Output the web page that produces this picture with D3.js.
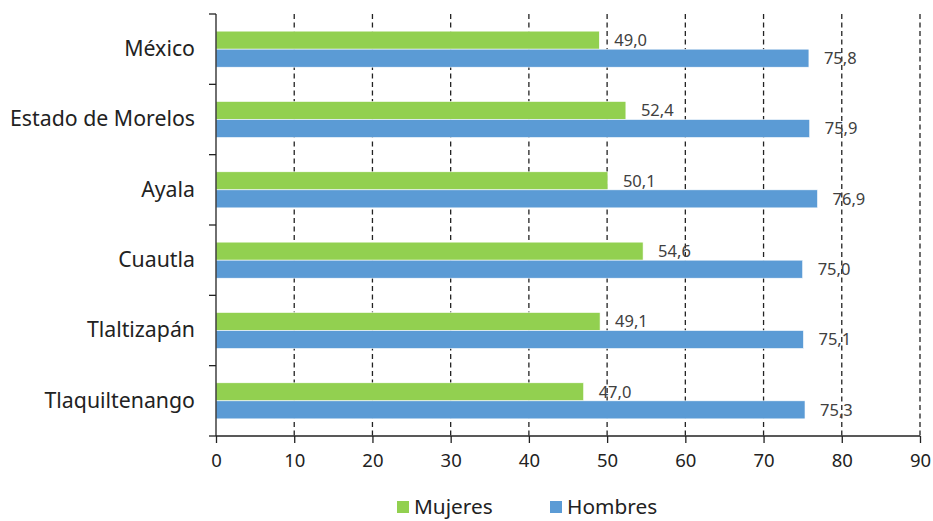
<!DOCTYPE html>
<html><head><meta charset="utf-8">
<script src="https://cdn.jsdelivr.net/npm/d3@7"></script>
<style>body{margin:0;background:#fff;}svg{display:block;font-family:"Noto Sans","Open Sans",sans-serif;}</style>
</head><body>
<svg id="c" width="933" height="521"></svg>
<script>
const categories = ["México","Estado de Morelos","Ayala","Cuautla","Tlaltizapán","Tlaquiltenango"];
const mujeres = [49.0,52.4,50.1,54.6,49.1,47.0];
const hombres = [75.8,75.9,76.9,75.0,75.1,75.3];
const seriesNames = ["Mujeres","Hombres"];
const colors = ["#92d050","#5b9bd5"];
const xTicks = [0,10,20,30,40,50,60,70,80,90];

const FONT = '"Noto Sans","Open Sans",sans-serif';
const svg = d3.select("#c");
const x = d3.scaleLinear().domain([0,90]).range([216,920]);
const y = d3.scaleBand().domain(categories).range([14,436]).paddingInner(0).paddingOuter(0);
const inner = d3.scaleBand().domain(seriesNames).range([0,y.bandwidth()]).paddingInner(0).paddingOuter(0.95);
const fmt = v => v.toFixed(1).replace(".",",");

// gridlines
svg.append("g").selectAll("line").data(xTicks.slice(1)).join("line")
  .attr("x1",d=>x(d)).attr("x2",d=>x(d)).attr("y1",14).attr("y2",436)
  .attr("stroke","#222").attr("stroke-width",1.3).attr("stroke-dasharray","5,3.5");

const data = [mujeres,hombres];
data.forEach((vals,si)=>{
  const g = svg.append("g");
  g.selectAll("rect").data(vals).join("rect")
    .attr("x",x(0)).attr("y",(d,i)=>y(categories[i])+inner(seriesNames[si]))
    .attr("width",d=>x(d)-x(0)).attr("height",inner.bandwidth())
    .attr("fill",colors[si]).attr("stroke","#fff").attr("stroke-width",0.6);
  g.selectAll("text").data(vals).join("text")
    .attr("x",d=>x(d)+15).attr("y",(d,i)=>y(categories[i])+inner(seriesNames[si])+inner.bandwidth()/2)
    .attr("dy","0.35em").attr("font-size",16.5).attr("fill","#404040").text(fmt);
});

// x axis
const xa = svg.append("g").attr("transform","translate(0,436)")
  .call(d3.axisBottom(x).tickValues(xTicks).tickSize(7).tickPadding(11));
xa.attr("font-family",FONT);
xa.select(".domain").attr("stroke","#222").attr("stroke-width",1.3).attr("d","M216,0H920");
xa.selectAll(".tick line").attr("stroke","#222").attr("stroke-width",1.3);
xa.selectAll("text").attr("font-size",18.5).attr("fill","#222");

// y axis
const ya = svg.append("g").attr("transform","translate(216,0)")
  .call(d3.axisLeft(y).tickSize(0).tickPadding(21));
ya.attr("font-family",FONT);
ya.select(".domain").attr("stroke","#222").attr("stroke-width",1.3).attr("d","M0,14V436");
ya.selectAll("text").attr("font-size",21.3).attr("fill","#222");
svg.append("g").selectAll("line").data(d3.range(categories.length+1)).join("line")
  .attr("x1",209).attr("x2",216)
  .attr("y1",i=>14+i*y.step()).attr("y2",i=>14+i*y.step())
  .attr("stroke","#222").attr("stroke-width",1.3);

// legend
const leg = svg.append("g");
const lx = [397,550];
seriesNames.forEach((n,i)=>{
  leg.append("rect").attr("x",lx[i]).attr("y",501).attr("width",12).attr("height",12).attr("fill",colors[i]);
  leg.append("text").attr("x",lx[i]+17).attr("y",507).attr("dy","0.35em").attr("font-size",20.8).attr("fill","#222").text(n);
});
</script>
</body></html>
